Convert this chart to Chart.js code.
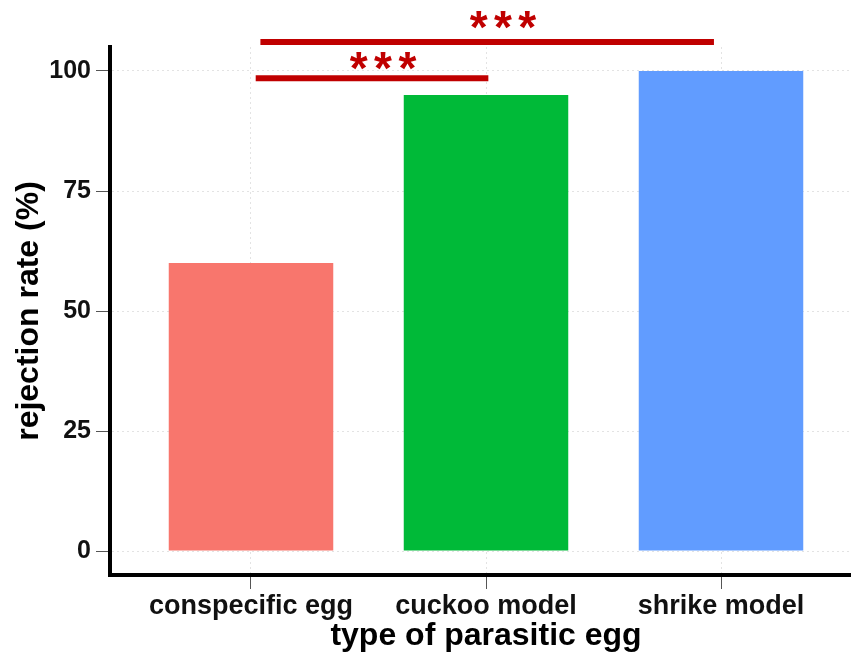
<!DOCTYPE html>
<html>

<head>
  <title>Rejection rate by type of parasitic egg</title>
  <script src="https://cdn.jsdelivr.net/npm/chart.js@4.4.0/dist/chart.umd.min.js"></script>

  <style>
    body {
      margin: 0;
      background-color: white;
      overflow: hidden;
    }

    .chart-container {
      width: 851px;
      height: 657px;
      overflow: hidden;
    }
  </style>
</head>

<body>
  <div class="chart-container">
    <canvas id="eggChart" width="880" height="657"></canvas>
  </div>

  <script>
    const categories = ['conspecific egg', 'cuckoo model', 'shrike model'];
    const rejection = [60, 95, 100];
    const barColors = ['#F8766D', '#00BA38', '#619CFF'];
    const yTicks = [0, 25, 50, 75, 100];

    // significance brackets, x in category units, y in %
    const sigStart = [1.02, 1.04];
    const sigEnd = [2.01, 2.97];
    const sigLevel = [98.5, 106.05];
    const sigStarX = [1.562, 2.072];
    const sigStarY = [102.6, 111.2];
    const sigLabel = ['***', '***'];

    Chart.defaults.font.family = '"Liberation Sans", Arial, sans-serif';
    Chart.defaults.color = '#000';

    const sigPlugin = {
      id: 'sigBrackets',
      afterDraw(chart) {
        const ctx = chart.ctx;
        const x = chart.scales.x;
        const y = chart.scales.y;
        const starSize = 46;
        ctx.save();
        ctx.strokeStyle = '#C00000';
        ctx.fillStyle = '#C00000';
        ctx.lineWidth = 6;
        ctx.font = 'bold ' + starSize + 'px "Liberation Sans", Arial, sans-serif';
        ctx.textAlign = 'center';
        ctx.textBaseline = 'alphabetic';
        for (let i = 0; i < sigStart.length; i++) {
          const py = y.getPixelForValue(sigLevel[i]);
          ctx.beginPath();
          ctx.moveTo(x.getPixelForValue(sigStart[i]), py);
          ctx.lineTo(x.getPixelForValue(sigEnd[i]), py);
          ctx.stroke();

          const cx = x.getPixelForValue(sigStarX[i]);
          const cy = y.getPixelForValue(sigStarY[i]);
          const chars = sigLabel[i].split('');
          for (let k = 0; k < chars.length; k++) {
            ctx.fillText(chars[k], cx + (k - (chars.length - 1) / 2) * 24.3, cy + starSize * 0.55);
          }
        }
        ctx.restore();
      }
    };

    const ctx = document.getElementById('eggChart').getContext('2d');

    const points = categories.map((c, i) => ({ x: i + 1, y: rejection[i] }));

    new Chart(ctx, {
      type: 'bar',
      data: {
        datasets: [{
          data: points,
          backgroundColor: barColors,
          borderWidth: 0,
          barPercentage: 0.7,
          categoryPercentage: 1
        }]
      },
      options: {
        responsive: false,
        animation: false,
        layout: {
          padding: { top: 47, right: 18, left: 0, bottom: 0 }
        },
        plugins: {
          legend: { display: false },
          tooltip: { enabled: false }
        },
        scales: {
          x: {
            type: 'linear',
            min: 0.4,
            max: 3.6,
            offset: false,
            afterBuildTicks: function (scale) {
              scale.ticks = categories.map((c, i) => ({ value: i + 1 }));
            },
            afterFit: function (scale) {
              scale.height = 82;
            },
            ticks: {
              autoSkip: false,
              maxRotation: 0,
              padding: 1,
              color: '#111',
              font: { size: 27, weight: 'bold' },
              callback: function (value) {
                return categories[value - 1];
              }
            },
            grid: {
              offset: false,
              color: '#e3e3e3',
              lineWidth: 1,
              tickLength: 14,
              tickColor: '#555',
              tickWidth: 1,
              tickBorderDash: []
            },
            border: {
              color: '#000',
              width: 4,
              dash: [2, 3]
            },
            title: {
              display: true,
              text: 'type of parasitic egg',
              color: '#000',
              font: { size: 32, weight: 'bold' },
              padding: { top: 0, bottom: 2 }
            }
          },
          y: {
            min: -5,
            max: 105,
            afterBuildTicks: function (scale) {
              scale.ticks = yTicks.map(v => ({ value: v }));
            },
            afterFit: function (scale) {
              scale.width = 110;
            },
            ticks: {
              padding: 5,
              color: '#111',
              font: { size: 25, weight: 'bold' }
            },
            grid: {
              color: '#e3e3e3',
              lineWidth: 1,
              tickLength: 14,
              tickColor: '#555',
              tickWidth: 1,
              tickBorderDash: []
            },
            border: {
              color: '#000',
              width: 4,
              dash: [2, 3]
            },
            title: {
              display: true,
              text: 'rejection rate (%)',
              color: '#000',
              font: { size: 32, weight: 'bold' },
              padding: { top: 10, bottom: 0 }
            }
          }
        }
      },
      plugins: [sigPlugin]
    });
  </script>
</body>

</html>
